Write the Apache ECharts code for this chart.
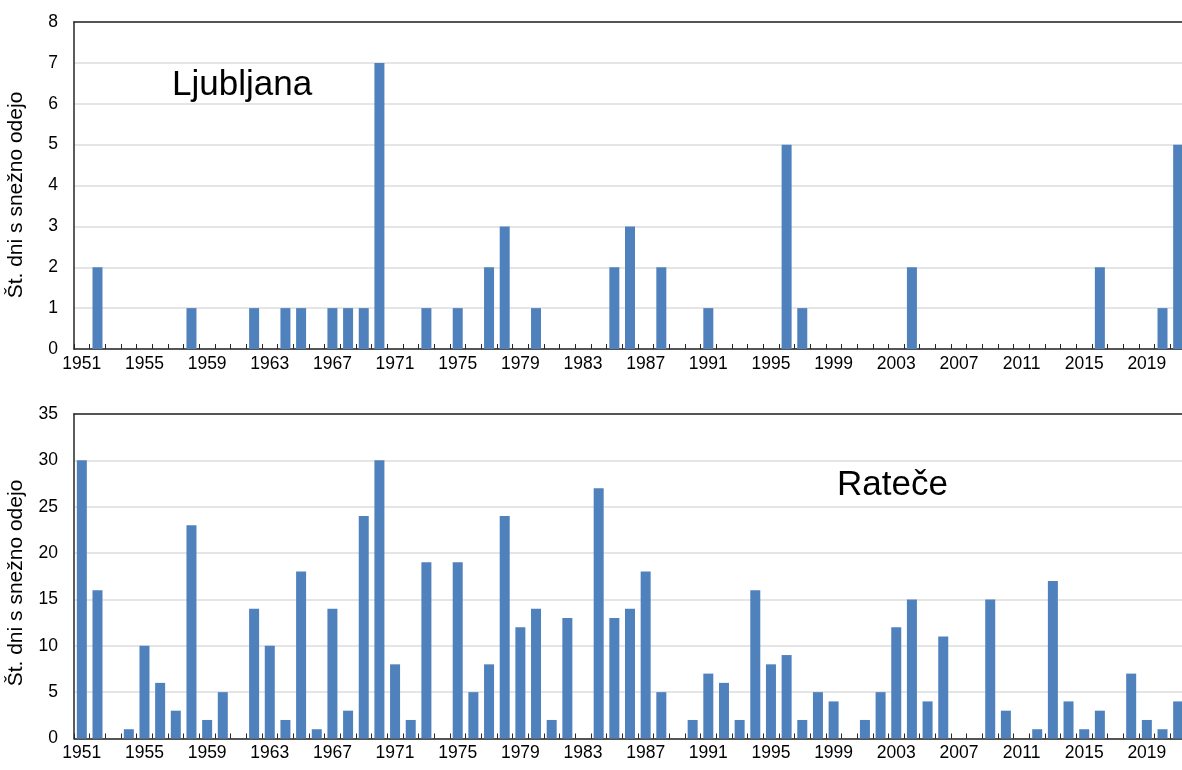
<!DOCTYPE html>
<html>
<head>
<meta charset="utf-8">
<script src="https://cdn.jsdelivr.net/npm/echarts@6/dist/echarts.min.js"></script>
<style>
html,body{margin:0;padding:0;background:#fff;}
#c{width:1182px;height:770px;}
</style>
</head>
<body>
<div id="c"></div>
<script>
var years = [
  '1951','1952','1953','1954','1955','1956','1957','1958','1959','1960',
  '1961','1962','1963','1964','1965','1966','1967','1968','1969','1970',
  '1971','1972','1973','1974','1975','1976','1977','1978','1979','1980',
  '1981','1982','1983','1984','1985','1986','1987','1988','1989','1990',
  '1991','1992','1993','1994','1995','1996','1997','1998','1999','2000',
  '2001','2002','2003','2004','2005','2006','2007','2008','2009','2010',
  '2011','2012','2013','2014','2015','2016','2017','2018','2019','2020',
  '2021'
];
var ljubljana = [
  0,2,0,0,0,0,0,1,0,0,
  0,1,0,1,1,0,1,1,1,7,
  0,0,1,0,1,0,2,3,0,1,
  0,0,0,0,2,3,0,2,0,0,
  1,0,0,0,0,5,1,0,0,0,
  0,0,0,2,0,0,0,0,0,0,
  0,0,0,0,0,2,0,0,0,1,
  5
];
var ratece = [
  30,16,0,1,10,6,3,23,2,5,
  0,14,10,2,18,1,14,3,24,30,
  8,2,19,0,19,5,8,24,12,14,
  2,13,0,27,13,14,18,5,0,2,
  7,6,2,16,8,9,2,5,4,0,
  2,5,12,15,4,11,0,0,15,3,
  0,1,17,4,1,3,0,7,2,1,
  4
];
var yTitle = 'Št. dni s snežno odejo';
var panelTitles = ['Ljubljana', 'Rateče'];

var FONT = '"Liberation Sans", Arial, sans-serif';
var chart = echarts.init(document.getElementById('c'), null, {renderer:'canvas'});

function xAx(gi){
  return {
    type:'category', gridIndex:gi, data:years,
    axisLine:{show:true, lineStyle:{color:'#262626', width:1.5}},
    axisTick:{show:true, inside:true, length:5, interval:0, lineStyle:{color:'#262626', width:1}},
    axisLabel:{interval:3, color:'#000', fontSize:17.5, fontFamily:FONT, margin:6, hideOverlap:false},
    splitLine:{show:false}
  };
}
function xTop(gi){
  return {
    type:'category', gridIndex:gi, data:years, position:'top',
    axisLine:{show:true, lineStyle:{color:'#262626', width:1.5}},
    axisTick:{show:false}, axisLabel:{show:false}, splitLine:{show:false}
  };
}
function yAx(gi, max, step){
  return {
    type:'value', gridIndex:gi, min:0, max:max, interval:step,
    axisLine:{show:true, lineStyle:{color:'#262626', width:1.5}},
    axisTick:{show:false},
    axisLabel:{color:'#000', fontSize:17.5, fontFamily:FONT, margin:16},
    splitLine:{show:true, lineStyle:{color:'#dcdcdc', width:1.5}}
  };
}

chart.setOption({
  animation:false,
  backgroundColor:'#fff',
  grid:[
    {left:74, top:22, width:1112, height:327, outerBoundsMode:'none', containLabel:false},
    {left:74, top:414, width:1112, height:324.5, outerBoundsMode:'none', containLabel:false}
  ],
  xAxis:[xAx(0), xAx(1), xTop(0), xTop(1)],
  yAxis:[yAx(0, 8, 1), yAx(1, 35, 5)],
  series:[
    {type:'bar', xAxisIndex:0, yAxisIndex:0, data:ljubljana, barWidth:10, itemStyle:{color:'#4f81bd'}},
    {type:'bar', xAxisIndex:1, yAxisIndex:1, data:ratece, barWidth:10, itemStyle:{color:'#4f81bd'}}
  ],
  graphic:[
    {type:'text', x:172, y:85, style:{text:panelTitles[0], font:'35px ' + FONT, fill:'#000', textAlign:'left', textVerticalAlign:'middle', align:'left', verticalAlign:'middle'}},
    {type:'text', x:837, y:485, style:{text:panelTitles[1], font:'35px ' + FONT, fill:'#000', textAlign:'left', textVerticalAlign:'middle', align:'left', verticalAlign:'middle'}},
    {type:'text', x:16, y:195, rotation:Math.PI/2, style:{text:yTitle, font:'21px ' + FONT, fill:'#000', textAlign:'center', textVerticalAlign:'middle', align:'center', verticalAlign:'middle'}},
    {type:'text', x:16, y:583, rotation:Math.PI/2, style:{text:yTitle, font:'21px ' + FONT, fill:'#000', textAlign:'center', textVerticalAlign:'middle', align:'center', verticalAlign:'middle'}}
  ]
});
</script>
</body>
</html>
